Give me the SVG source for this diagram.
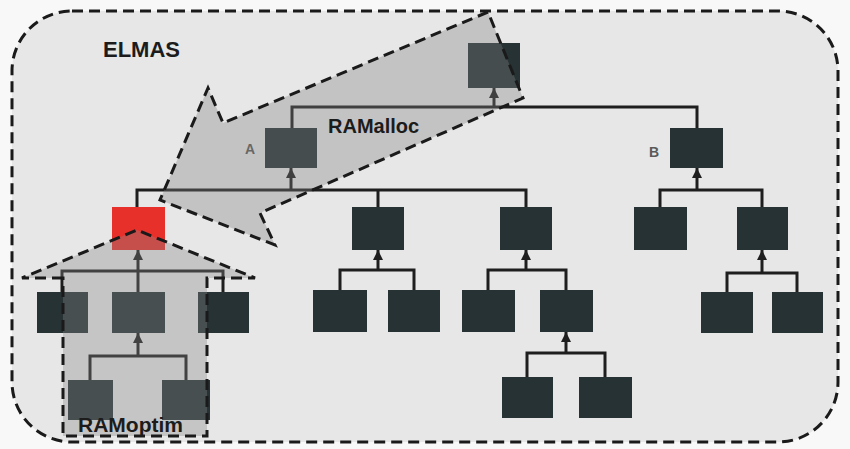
<svg xmlns="http://www.w3.org/2000/svg" width="850" height="449" viewBox="0 0 850 449">
<style>
.node{fill:#263234}
.link{fill:none;stroke:#1e1e1e;stroke-width:3}
.stem{fill:none;stroke:#1e1e1e;stroke-width:3;marker-end:url(#ah)}
.dash{stroke:#1a1a1a;stroke-width:3;stroke-dasharray:11 6}
.title{font-family:"Liberation Sans",Arial,sans-serif;font-weight:bold;fill:#1c1c1c}
.lbl{font-family:"Liberation Sans",Arial,sans-serif;font-weight:bold;fill:#5a5a5a;font-size:14px}
</style>
<defs>
<marker id="ah" markerUnits="userSpaceOnUse" markerWidth="10" markerHeight="10" viewBox="0 0 10 10" refX="10" refY="5" orient="auto">
<path d="M0,0 L10,5 L0,10 Z" fill="#1e1e1e"/>
</marker>
</defs>
<rect x="0" y="0" width="850" height="449" fill="#f8f8f8"/>
<g id="elmas">
<rect x="12" y="11" width="826" height="431" rx="60" ry="60" fill="#e7e7e7" class="dash"/>
<text x="103" y="57" class="title" font-size="22">ELMAS</text>
</g>
<g id="connectors">
<path class="link" d="M292,128 V107 H697 V128"/>
<path class="stem" d="M494,107 V88"/>
<path class="link" d="M137,207 V190 H526 V207 M378,190 V207"/>
<path class="stem" d="M291,190 V168"/>
<path class="link" d="M660,207 V190 H762 V207"/>
<path class="stem" d="M697,190 V168"/>
<path class="link" d="M340,290 V270 H414 V290"/>
<path class="stem" d="M378,270 V250"/>
<path class="link" d="M488,290 V270 H566 V290"/>
<path class="stem" d="M526,270 V250"/>
<path class="link" d="M527,377 V353 H605 V377"/>
<path class="stem" d="M566,353 V332"/>
<path class="link" d="M727,292 V273 H797 V292"/>
<path class="stem" d="M762,273 V250"/>
<path class="link" d="M62,292 V271 H223 V292"/>
<path class="stem" d="M138,292 V250"/>
<path class="link" d="M90,380 V356 H186 V380"/>
<path class="stem" d="M138,356 V333"/>
</g>
<g id="root"><rect class="node" x="468" y="43" width="52" height="45"/></g>
<g id="nodeA"><rect class="node" x="265" y="128" width="52" height="40"/><text x="245" y="154" class="lbl">A</text></g>
<g id="nodeB"><rect class="node" x="670" y="128" width="53" height="40"/><text x="649" y="157" class="lbl">B</text></g>
<g id="red"><rect x="112" y="207" width="53" height="43" fill="#e8302b"/></g>
<g id="mid1"><rect class="node" x="352" y="207" width="52" height="43"/></g>
<g id="mid2"><rect class="node" x="500" y="207" width="52" height="43"/></g>
<g id="b1"><rect class="node" x="634" y="207" width="53" height="43"/></g>
<g id="b2"><rect class="node" x="737" y="207" width="51" height="43"/></g>
<g id="m1a"><rect class="node" x="313" y="290" width="54" height="42"/></g>
<g id="m1b"><rect class="node" x="388" y="290" width="52" height="42"/></g>
<g id="m2a"><rect class="node" x="462" y="290" width="53" height="42"/></g>
<g id="m2b"><rect class="node" x="540" y="290" width="53" height="42"/></g>
<g id="m2b1"><rect class="node" x="502" y="377" width="51" height="41"/></g>
<g id="m2b2"><rect class="node" x="579" y="377" width="53" height="41"/></g>
<g id="b2a"><rect class="node" x="701" y="292" width="52" height="41"/></g>
<g id="b2b"><rect class="node" x="772" y="292" width="51" height="41"/></g>
<g id="r1"><rect class="node" x="37" y="292" width="51" height="41"/></g>
<g id="r2"><rect class="node" x="112" y="292" width="53" height="41"/></g>
<g id="r3"><rect class="node" x="198" y="292" width="51" height="41"/></g>
<g id="r2a"><rect class="node" x="68" y="380" width="45" height="40"/></g>
<g id="r2b"><rect class="node" x="162" y="380" width="48" height="40"/></g>
<g id="ramoptim">
<path d="M63,278 H22 L137,230 L255,278 H207 V436 H63 Z" fill="#888888" fill-opacity="0.35" class="dash"/>
<text x="78" y="432" class="title" font-size="21">RAMoptim</text>
</g>
<g id="ramalloc">
<path d="M488,12 L223,123 L208,88 L160,200 L275,245 L260,213 L523,98 Z" fill="#808080" fill-opacity="0.35" class="dash"/>
<text x="328" y="133" class="title" font-size="20">RAMalloc</text>
</g>
</svg>
